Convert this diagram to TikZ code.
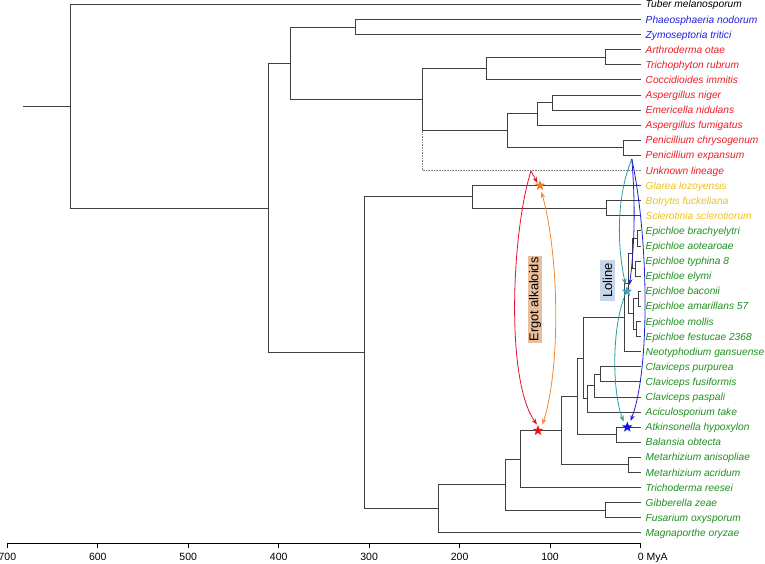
\documentclass[tikz,border=0pt]{standalone}
\usepackage{fontspec}
\setmainfont{Liberation Sans}
\usetikzlibrary{shapes.geometric,arrows.meta}
\definecolor{tred}{HTML}{EE1C25}
\definecolor{tblue}{HTML}{1F1FE0}
\definecolor{tgold}{HTML}{EEC21A}
\definecolor{tgreen}{HTML}{1F8F1F}
\definecolor{treegray}{HTML}{404040}
\definecolor{ared}{HTML}{E8102A}
\definecolor{aorange}{HTML}{F3862B}
\definecolor{ateal}{HTML}{2A9D9A}
\definecolor{ablue}{HTML}{1F1FD0}
\definecolor{sorange}{HTML}{F47A20}
\definecolor{sred}{HTML}{F01010}
\definecolor{sblue}{HTML}{1010F0}
\definecolor{steal}{HTML}{3AA6C8}
\definecolor{ergotfill}{HTML}{E9BE9C}
\definecolor{lolinefill}{HTML}{C7D6EA}
\tikzset{
  tree/.style={draw=treegray,line width=0.75pt},
  dotline/.style={draw=gray,line width=0.6pt,densely dotted},
  tiplab/.style={anchor=base west,inner sep=0pt,font=\fontsize{10.2}{12}\selectfont\itshape},
  ticklab/.style={anchor=base,inner sep=0pt,font=\fontsize{10.5}{12}\selectfont},
  axisl/.style={draw=black,line width=0.7pt},
  starmark/.style={star,star points=5,star point ratio=2.4,minimum size=11pt,inner sep=0pt,draw=none},
  gene/.style={line width=0.8pt,-{Stealth[length=6pt,width=4.5pt]}},
  genetwo/.style={line width=0.8pt,{Stealth[length=6pt,width=4.5pt]}-{Stealth[length=6pt,width=4.5pt]}},
  genebox/.style={rotate=90,inner xsep=2pt,inner ysep=1pt,text=black},
}
\newcommand\mytip[4]{\coordinate (#1) at (640.5,#2); \node[tiplab,text=#3] (#1l) at (645.5,{#2+3.6}) {#4};}
\newcommand\mybr[2]{\draw[tree] (#1) |- (#2);}
\begin{document}
\begin{tikzpicture}[x=1pt,y=-1pt]
\useasboundingbox (0,0) rectangle (765,563);
% tips
\mytip{t1}{4.3}{black}{Tuber melanosporum}
\mytip{t2}{19.4}{tblue}{Phaeosphaeria nodorum}
\mytip{t3}{34.5}{tblue}{Zymoseptoria tritici}
\mytip{t4}{49.6}{tred}{Arthroderma otae}
\mytip{t5}{64.7}{tred}{Trichophyton rubrum}
\mytip{t6}{79.8}{tred}{Coccidioides immitis}
\mytip{t7}{94.9}{tred}{Aspergillus niger}
\mytip{t8}{110.0}{tred}{Emericella nidulans}
\mytip{t9}{125.1}{tred}{Aspergillus fumigatus}
\mytip{t10}{140.2}{tred}{Penicillium chrysogenum}
\mytip{t11}{155.3}{tred}{Penicillium expansum}
\mytip{t12}{170.4}{tred}{Unknown lineage}
\mytip{t13}{185.5}{tgold}{Glarea lozoyensis}
\mytip{t14}{200.6}{tgold}{Botrytis fuckeliana}
\mytip{t15}{215.7}{tgold}{Sclerotinia sclerotiorum}
\mytip{t16}{230.8}{tgreen}{Epichloe brachyelytri}
\mytip{t17}{245.9}{tgreen}{Epichloe aotearoae}
\mytip{t18}{261.0}{tgreen}{Epichloe typhina 8}
\mytip{t19}{276.1}{tgreen}{Epichloe elymi}
\mytip{t20}{291.2}{tgreen}{Epichloe baconii}
\mytip{t21}{306.3}{tgreen}{Epichloe amarillans 57}
\mytip{t22}{321.4}{tgreen}{Epichloe mollis}
\mytip{t23}{336.5}{tgreen}{Epichloe festucae 2368}
\mytip{t24}{351.6}{tgreen}{Neotyphodium gansuense}
\mytip{t25}{366.7}{tgreen}{Claviceps purpurea}
\mytip{t26}{381.8}{tgreen}{Claviceps fusiformis}
\mytip{t27}{396.9}{tgreen}{Claviceps paspali}
\mytip{t28}{412.0}{tgreen}{Aciculosporium take}
\mytip{t29}{427.1}{tgreen}{Atkinsonella hypoxylon}
\mytip{t30}{442.2}{tgreen}{Balansia obtecta}
\mytip{t31}{457.3}{tgreen}{Metarhizium anisopliae}
\mytip{t32}{472.4}{tgreen}{Metarhizium acridum}
\mytip{t33}{487.5}{tgreen}{Trichoderma reesei}
\mytip{t34}{502.6}{tgreen}{Gibberella zeae}
\mytip{t35}{517.7}{tgreen}{Fusarium oxysporum}
\mytip{t36}{532.8}{tgreen}{Magnaporthe oryzae}
% internal nodes
\coordinate (nAT) at (605,57.15);
\coordinate (nAC) at (486.7,68.5);
\coordinate (nAN) at (552.7,102.45);
\coordinate (nAF) at (537.7,113.8);
\coordinate (nPE) at (623.3,147.75);
\coordinate (nAP) at (507,130.8);
\coordinate (nEu) at (422.3,99.6);
\coordinate (nEuB) at (422.3,130.8);
\coordinate (nDo) at (355.3,26.95);
\coordinate (nB) at (290.7,63.3);
\coordinate (nBS) at (606.7,208.15);
\coordinate (nLe) at (472.3,196.8);
\coordinate (e1) at (637,238.35);
\coordinate (e2) at (635.5,268.55);
\coordinate (eC) at (632,253.45);
\coordinate (e3) at (638,298.75);
\coordinate (e4) at (636,328.95);
\coordinate (eD) at (633.5,313.85);
\coordinate (eM) at (628,283.65);
\coordinate (eCl) at (624.3,317.6);
\coordinate (nCp) at (600,374.25);
\coordinate (nCl) at (594.3,385.6);
\coordinate (nZ) at (587.7,398.8);
\coordinate (nX) at (583.3,358.2);
\coordinate (nAB) at (616,434.65);
\coordinate (nY) at (577.7,396.4);
\coordinate (nMe) at (628.3,464.85);
\coordinate (nW) at (561,430.6);
\coordinate (nV) at (520.7,459.05);
\coordinate (nFu) at (605,510.15);
\coordinate (nU) at (505,484.6);
\coordinate (nG) at (438.3,508.7);
\coordinate (nC) at (364,352.75);
\coordinate (nA) at (268.7,208);
\coordinate (root) at (70,106.15);
\coordinate (stub) at (23,106.15);
% branches
\draw[tree] (stub) -- (root);
\mybr{root}{t1}\mybr{root}{nA}
\mybr{nA}{nB}\mybr{nA}{nC}
\mybr{nB}{nDo}\mybr{nB}{nEu}
\mybr{nDo}{t2}\mybr{nDo}{t3}
\mybr{nEu}{nAC}\mybr{nEu}{nAP}
\mybr{nAC}{nAT}\mybr{nAC}{t6}
\mybr{nAT}{t4}\mybr{nAT}{t5}
\mybr{nAP}{nAF}\mybr{nAP}{nPE}
\mybr{nAF}{nAN}\mybr{nAF}{t9}
\mybr{nAN}{t7}\mybr{nAN}{t8}
\mybr{nPE}{t10}\mybr{nPE}{t11}
\draw[dotline] (nEuB) |- (t12);
\mybr{nC}{nLe}\mybr{nC}{nG}
\mybr{nLe}{t13}\mybr{nLe}{nBS}
\mybr{nBS}{t14}\mybr{nBS}{t15}
\mybr{nG}{nU}\mybr{nG}{t36}
\mybr{nU}{nV}\mybr{nU}{nFu}
\mybr{nFu}{t34}\mybr{nFu}{t35}
\mybr{nV}{nW}\mybr{nV}{t33}
\mybr{nW}{nY}\mybr{nW}{nMe}
\mybr{nMe}{t31}\mybr{nMe}{t32}
\mybr{nY}{nX}\mybr{nY}{nAB}
\mybr{nAB}{t29}\mybr{nAB}{t30}
\mybr{nX}{eCl}\mybr{nX}{nZ}
\mybr{nZ}{nCl}\mybr{nZ}{t28}
\mybr{nCl}{nCp}\mybr{nCl}{t27}
\mybr{nCp}{t25}\mybr{nCp}{t26}
\mybr{eCl}{eM}\mybr{eCl}{t24}
\mybr{eM}{eC}\mybr{eM}{eD}
\mybr{eC}{e1}\mybr{eC}{e2}
\mybr{e1}{t16}\mybr{e1}{t17}
\mybr{e2}{t18}\mybr{e2}{t19}
\mybr{eD}{e3}\mybr{eD}{e4}
\mybr{e3}{t20}\mybr{e3}{t21}
\mybr{e4}{t22}\mybr{e4}{t23}
% axis
\coordinate (ax0) at (640.5,543.5);
\coordinate (ax7) at (7.35,543.5);
\draw[axisl] (ax7) -- (ax0);
\foreach \k in {0,...,7} {
  \coordinate (tk\k) at ({640.5-90.45*\k},543.5);
  \draw[axisl] (tk\k) -- ++(0,4);
}
\foreach \k in {1,...,7} {
  \pgfmathtruncatemacro\lab{100*\k}
  \node[ticklab] (tl\k) at ({640.5-90.45*\k},560) {\lab};
}
\node[ticklab,anchor=base west] (tl0) at (637.6,560) {0 MyA};
% stars
\node[starmark,fill=sorange] (sO) at (540,185.5) {};
\node[starmark,fill=sred] (sR) at (538,430.6) {};
\node[starmark,fill=sblue] (sB) at (627.3,427.1) {};
\node[starmark,fill=steal] (sT) at (627,291.5) {};
% gene transfer arrows
\coordinate (unk) at (531,171);
\coordinate (oTip) at (537.5,183);
\coordinate (rTip) at (537,424.5);
\coordinate (oTop) at (541.5,192);
\coordinate (oBot) at (542.5,424.5);
\coordinate (lsrc) at (631.8,159);
\coordinate (tTip) at (625.5,284.5);
\coordinate (bTip) at (629.5,285);
\coordinate (bBot) at (630.5,421);
\coordinate (tStart) at (624,298);
\coordinate (tBot) at (623.5,421.5);
\draw[gene,ared] (unk) -- (oTip);
\draw[gene,ared] (unk) .. controls (512,230) and (505,380) .. (rTip);
\draw[genetwo,aorange] (oTop) .. controls (560,260) and (560,370) .. (oBot);
\draw[gene,ateal] (lsrc) .. controls (615,200) and (618,250) .. (tTip);
\draw[gene,ablue] (lsrc) .. controls (636,210) and (634,250) .. (bTip);
\draw[gene,ablue] (lsrc) .. controls (649,240) and (650,370) .. (bBot);
\draw[gene,ateal] (tStart) .. controls (612,330) and (612,390) .. (tBot);
% labels
\node[genebox,fill=ergotfill,font=\fontsize{12.8}{14}\selectfont] (ergot) at (535,299.5) {Ergot alkaloids};
\node[genebox,fill=lolinefill,inner xsep=3pt,inner ysep=2.5pt,font=\fontsize{13}{15}\selectfont] (loline) at (607.5,280.5) {Loline};
\end{tikzpicture}
\end{document}
